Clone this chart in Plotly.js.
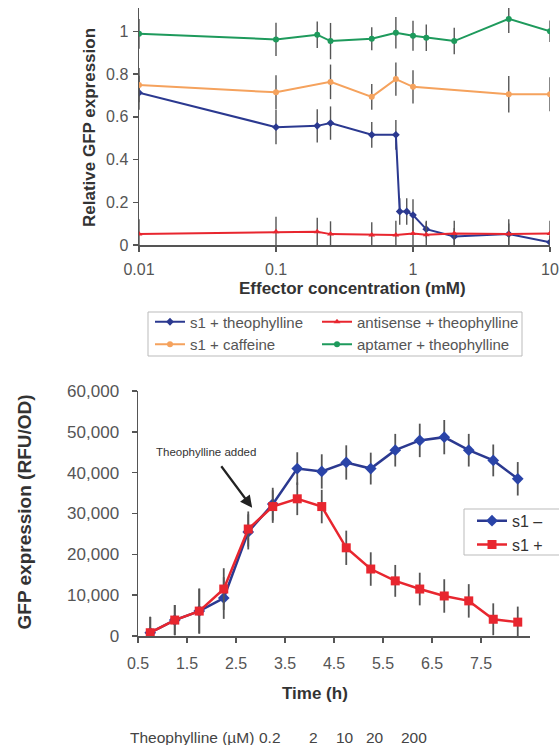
<!DOCTYPE html>
<html>
<head>
<meta charset="utf-8">
<script src="https://cdn.plot.ly/plotly-3.0.1.min.js"></script>
<style>
html,body{margin:0;padding:0;background:#fff;}
#chart{width:559px;height:745px;}
</style>
</head>
<body>
<div id="chart"></div>
<script>
// ---------- Top chart data (relative GFP expression vs effector concentration, mM) ----------
const s1TheoX = [0.01, 0.1, 0.2, 0.25, 0.5, 0.75, 0.8, 0.9, 1, 1.25, 2, 5, 10];
const s1TheoY = [0.713, 0.552, 0.558, 0.571, 0.516, 0.516, 0.157, 0.157, 0.14, 0.074, 0.04, 0.051, 0.013];
const s1TheoErr = [0.08, 0.08, 0.078, 0.078, 0.06, 0.07, 0.062, 0.062, 0.074, 0.04, 0.04, 0.05, 0.03];

const antiX = [0.01, 0.1, 0.2, 0.25, 0.5, 0.75, 1, 1.25, 2, 5, 10];
const antiY = [0.051, 0.062, 0.062, 0.051, 0.047, 0.047, 0.054, 0.048, 0.054, 0.051, 0.054];
const antiErr = [0.07, 0.07, 0.066, 0.06, 0.06, 0.066, 0.07, 0.06, 0.06, 0.07, 0.06];

const cafX = [0.01, 0.1, 0.25, 0.5, 0.75, 1, 5, 10];
const cafY = [0.749, 0.715, 0.764, 0.694, 0.777, 0.741, 0.706, 0.706];
const cafErr = [0.08, 0.08, 0.081, 0.06, 0.078, 0.078, 0.085, 0.08];

const aptX = [0.01, 0.1, 0.2, 0.25, 0.5, 0.75, 1, 1.25, 2, 5, 10];
const aptY = [0.989, 0.963, 0.985, 0.955, 0.966, 0.994, 0.98, 0.971, 0.955, 1.059, 1.001];
const aptErr = [0.07, 0.078, 0.062, 0.085, 0.054, 0.074, 0.07, 0.062, 0.062, 0.066, 0.05];

const topXTicks = [0.01, 0.1, 1, 10];
const topXTickText = ['0.01', '0.1', '1', '10'];
const topYTicks = [0, 0.2, 0.4, 0.6, 0.8, 1];

// ---------- Bottom chart data (GFP expression RFU/OD vs time, h) ----------
const timeH = [0.75, 1.25, 1.75, 2.25, 2.75, 3.25, 3.75, 4.25, 4.75, 5.25, 5.75, 6.25, 6.75, 7.25, 7.75, 8.25];
const s1Minus = [800, 3900, 6100, 9300, 25500, 32300, 41000, 40300, 42500, 41000, 45500, 47900, 48700, 45500, 43000, 38500];
const s1MinusErr = [3900, 3700, 5500, 5100, 4300, 4000, 4000, 4200, 4200, 3900, 4000, 4100, 4200, 4000, 3900, 4100];
const s1Plus = [800, 3900, 6100, 11500, 26200, 31700, 33600, 31700, 21600, 16400, 13500, 11500, 9800, 8600, 4100, 3400];
const s1PlusErr = [3900, 3700, 5500, 5100, 4300, 4000, 4000, 4100, 4200, 4100, 3900, 4000, 4100, 4100, 3900, 3800];

const botXTicks = [0.5, 1.5, 2.5, 3.5, 4.5, 5.5, 6.5, 7.5];
const botYTicks = [0, 10000, 20000, 30000, 40000, 50000, 60000];

const theoLabel = 'Theophylline (\u00b5M)';
const theoConcs = ['0.2', '2', '10', '20', '200'];

// ---------- layout helpers ----------
const W = 559, H = 745;
const px = v => v / W;
const py = v => (H - v) / H;
const FONT = 'Liberation Sans, Arial, Helvetica, sans-serif';
const BLUE = '#2b3990', RED = '#e8262f', ORANGE = '#f5a25d', GREEN = '#1e9a5c', ERR = '#555555';

function errY(arr, w) { return {type: 'data', array: arr, visible: true, color: ERR, thickness: w || 1.4, width: 0}; }

const traces = [
  {x: s1TheoX, y: s1TheoY, error_y: errY(s1TheoErr), name: 's1 + theophylline', mode: 'lines+markers',
   line: {color: BLUE, width: 2}, marker: {symbol: 'diamond', size: 6, color: BLUE}, xaxis: 'x', yaxis: 'y', legend: 'legend'},
  {x: antiX, y: antiY, error_y: errY(antiErr), name: 'antisense + theophylline', mode: 'lines+markers',
   line: {color: RED, width: 2}, marker: {symbol: 'triangle-up', size: 6, color: RED}, xaxis: 'x', yaxis: 'y', legend: 'legend3'},
  {x: cafX, y: cafY, error_y: errY(cafErr), name: 's1 + caffeine', mode: 'lines+markers',
   line: {color: ORANGE, width: 2}, marker: {symbol: 'circle', size: 6, color: ORANGE}, xaxis: 'x', yaxis: 'y', legend: 'legend'},
  {x: aptX, y: aptY, error_y: errY(aptErr), name: 'aptamer + theophylline', mode: 'lines+markers',
   line: {color: GREEN, width: 2}, marker: {symbol: 'circle', size: 6, color: GREEN}, xaxis: 'x', yaxis: 'y', legend: 'legend3'},
  {x: timeH, y: s1Minus, error_y: errY(s1MinusErr, 1.8), name: 's1 \u2013', mode: 'lines+markers',
   line: {color: BLUE, width: 2.5}, marker: {symbol: 'diamond', size: 9, color: '#2a44a8'}, xaxis: 'x2', yaxis: 'y2', legend: 'legend2'},
  {x: timeH, y: s1Plus, error_y: errY(s1PlusErr, 1.8), name: 's1 +', mode: 'lines+markers',
   line: {color: RED, width: 2.5}, marker: {symbol: 'square', size: 9, color: RED}, xaxis: 'x2', yaxis: 'y2', legend: 'legend2'}
];

const axisBase = {
  showline: true, linecolor: '#555', linewidth: 1.5, ticks: 'outside', tickcolor: '#555', ticklen: 5, tickwidth: 1.5,
  showgrid: false, zeroline: false, fixedrange: true, tickfont: {family: FONT, size: 16, color: '#555'}
};

const annotations = [
  {text: '<b>Relative GFP expression</b>', x: px(89), y: py(128), xref: 'paper', yref: 'paper', textangle: -90,
   showarrow: false, xanchor: 'center', yanchor: 'middle', font: {family: FONT, size: 17, color: '#333'}},
  {text: '<b>Effector concentration (mM)</b>', x: px(352.5), y: py(288), xref: 'paper', yref: 'paper',
   showarrow: false, xanchor: 'center', yanchor: 'middle', font: {family: FONT, size: 17, color: '#333'}},
  {text: '<b>GFP expression (RFU/OD)</b>', x: px(24), y: py(512.5), xref: 'paper', yref: 'paper', textangle: -90,
   showarrow: false, xanchor: 'center', yanchor: 'middle', font: {family: FONT, size: 19, color: '#333'}},
  {text: '<b>Time (h)</b>', x: px(315), y: py(693), xref: 'paper', yref: 'paper',
   showarrow: false, xanchor: 'center', yanchor: 'middle', font: {family: FONT, size: 17, color: '#333'}},
  {text: 'Theophylline added', x: 1.89, y: 45000, xref: 'x2', yref: 'y2',
   showarrow: false, xanchor: 'center', yanchor: 'middle', font: {family: FONT, size: 11.5, color: '#333'}},
  {text: '', x: 2.83, y: 31400, xref: 'x2', yref: 'y2', ax: -32, ay: -43, axref: 'pixel', ayref: 'pixel',
   showarrow: true, arrowhead: 2, arrowsize: 1.1, arrowwidth: 2.2, arrowcolor: '#222'},
  {text: theoLabel, x: px(256), y: py(737), xref: 'paper', yref: 'paper', showarrow: false,
   xanchor: 'right', yanchor: 'middle', font: {family: FONT, size: 15.5, color: '#444'}}
];
const concCenters = [270, 313, 345, 375, 414];
theoConcs.forEach((t, i) => annotations.push({text: t, x: px(concCenters[i]), y: py(737), xref: 'paper', yref: 'paper',
  showarrow: false, xanchor: 'center', yanchor: 'middle', font: {family: FONT, size: 15.5, color: '#444'}}));

const layout = {
  width: W, height: H, margin: {l: 0, r: 0, t: 0, b: 0, autoexpand: false},
  paper_bgcolor: '#fff', plot_bgcolor: '#fff', font: {family: FONT, color: '#333'},
  showlegend: true,
  xaxis: Object.assign({}, axisBase, {type: 'log', range: [-2, 1], tickvals: topXTicks, ticktext: topXTickText,
    domain: [px(139), px(550)], anchor: 'y', ticklabelstandoff: 4}),
  yaxis: Object.assign({}, axisBase, {range: [0, 1.11], tickvals: topYTicks, domain: [py(245), py(8)], anchor: 'x',
    ticklabelstandoff: 1}),
  xaxis2: Object.assign({}, axisBase, {range: [0.5, 8.5], tickvals: botXTicks, domain: [px(138), px(530)], anchor: 'y2',
    ticklabelstandoff: 7}),
  yaxis2: Object.assign({}, axisBase, {range: [0, 60000], tickvals: botYTicks, tickformat: ',d',
    domain: [py(636), py(391)], anchor: 'x2', ticklabelstandoff: 9, tickfont: {family: FONT, size: 17, color: '#555'}}),
  legend: {x: px(150), y: py(305.5), xanchor: 'left', yanchor: 'top', orientation: 'v', bgcolor: 'rgba(0,0,0,0)',
    borderwidth: 0, font: {family: FONT, size: 15, color: '#555'}},
  legend3: {x: px(317), y: py(305.5), xanchor: 'left', yanchor: 'top', orientation: 'v', bgcolor: 'rgba(0,0,0,0)',
    borderwidth: 0, font: {family: FONT, size: 15, color: '#555'}},
  legend2: {x: px(472), y: py(503.8), xanchor: 'left', yanchor: 'top', orientation: 'v', bgcolor: 'rgba(0,0,0,0)',
    borderwidth: 0, font: {family: FONT, size: 16, color: '#333'}},
  shapes: [
    {type: 'rect', xref: 'paper', yref: 'paper', x0: px(148), x1: px(522), y0: py(356), y1: py(312),
     line: {color: '#bbb', width: 1}},
    {type: 'rect', xref: 'paper', yref: 'paper', x0: px(464), x1: px(570), y0: py(555), y1: py(509),
     line: {color: '#bbb', width: 1}}
  ],
  annotations: annotations
};

Plotly.newPlot('chart', traces, layout, {displayModeBar: false, staticPlot: true});
</script>
</body>
</html>
